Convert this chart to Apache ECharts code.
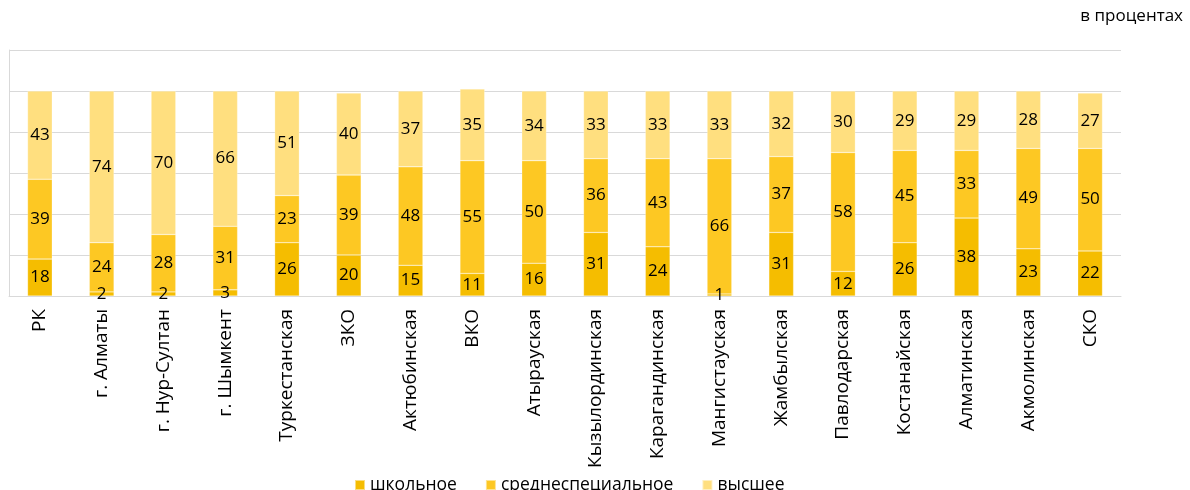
<!DOCTYPE html>
<html><head><meta charset="utf-8">
<script src="https://cdn.jsdelivr.net/npm/echarts@6/dist/echarts.min.js"></script>
<style>html,body{margin:0;padding:0;background:#fff}#c{width:1190px;height:490px}</style>
</head><body><div id="c"></div>
<script>
const categories = ['РК','г. Алматы','г. Нур-Султан','г. Шымкент','Туркестанская','ЗКО','Актюбинская','ВКО','Атырауская','Кызылординская','Карагандинская','Мангистауская','Жамбылская','Павлодарская','Костанайская','Алматинская','Акмолинская','СКО'];
const school = [18,2,2,3,26,20,15,11,16,31,24,1,31,12,26,38,23,22];
const special = [39,24,28,31,23,39,48,55,50,36,43,66,37,58,45,33,49,50];
const higher = [43,74,70,66,51,40,37,35,34,33,33,33,32,30,29,29,28,27];
const seriesNames = ['школьное','среднеспециальное','высшее'];
const colors = ['#F5BD00','#FDC823','#FFDF7F'];
const font = '"Open Sans", "Noto Sans", sans-serif';
const chart = echarts.init(document.getElementById('c'));
const mk = (name, data, color) => ({
  name, type:'bar', stack:'s', data, barWidth:'40%',
  itemStyle:{color, borderColor:'rgba(255,255,255,0.5)', borderWidth:0.5},
  label:{show:true, position:'inside', color:'#000', fontSize:17, fontFamily:font}
});
chart.setOption({
  animation:false,
  graphic:[{type:'text', right:7, top:8, style:{text:'в процентах', fontSize:17, fontFamily:font, fill:'#000'}}],
  legend:{bottom:-9, left:349, itemWidth:10, itemHeight:10, itemGap:28, icon:'rect',
    textStyle:{fontSize:17.5, fontFamily:font, color:'#000'}},
  grid:{left:9, right:69, top:50, bottom:194, containLabel:false},
  xAxis:{type:'category', data:categories,
    axisLine:{show:true, lineStyle:{color:'#d9d9d9'}}, axisTick:{show:false},
    axisLabel:{rotate:90, fontSize:19, fontFamily:font, color:'#000', margin:13, interval:0}},
  yAxis:{type:'value', min:0, max:120, interval:20,
    axisLabel:{show:false}, axisLine:{show:true, lineStyle:{color:'#d9d9d9'}},
    splitLine:{lineStyle:{color:'#d9d9d9', width:1}}},
  series:[mk(seriesNames[0], school, colors[0]), mk(seriesNames[1], special, colors[1]), mk(seriesNames[2], higher, colors[2])]
});
</script></body></html>
